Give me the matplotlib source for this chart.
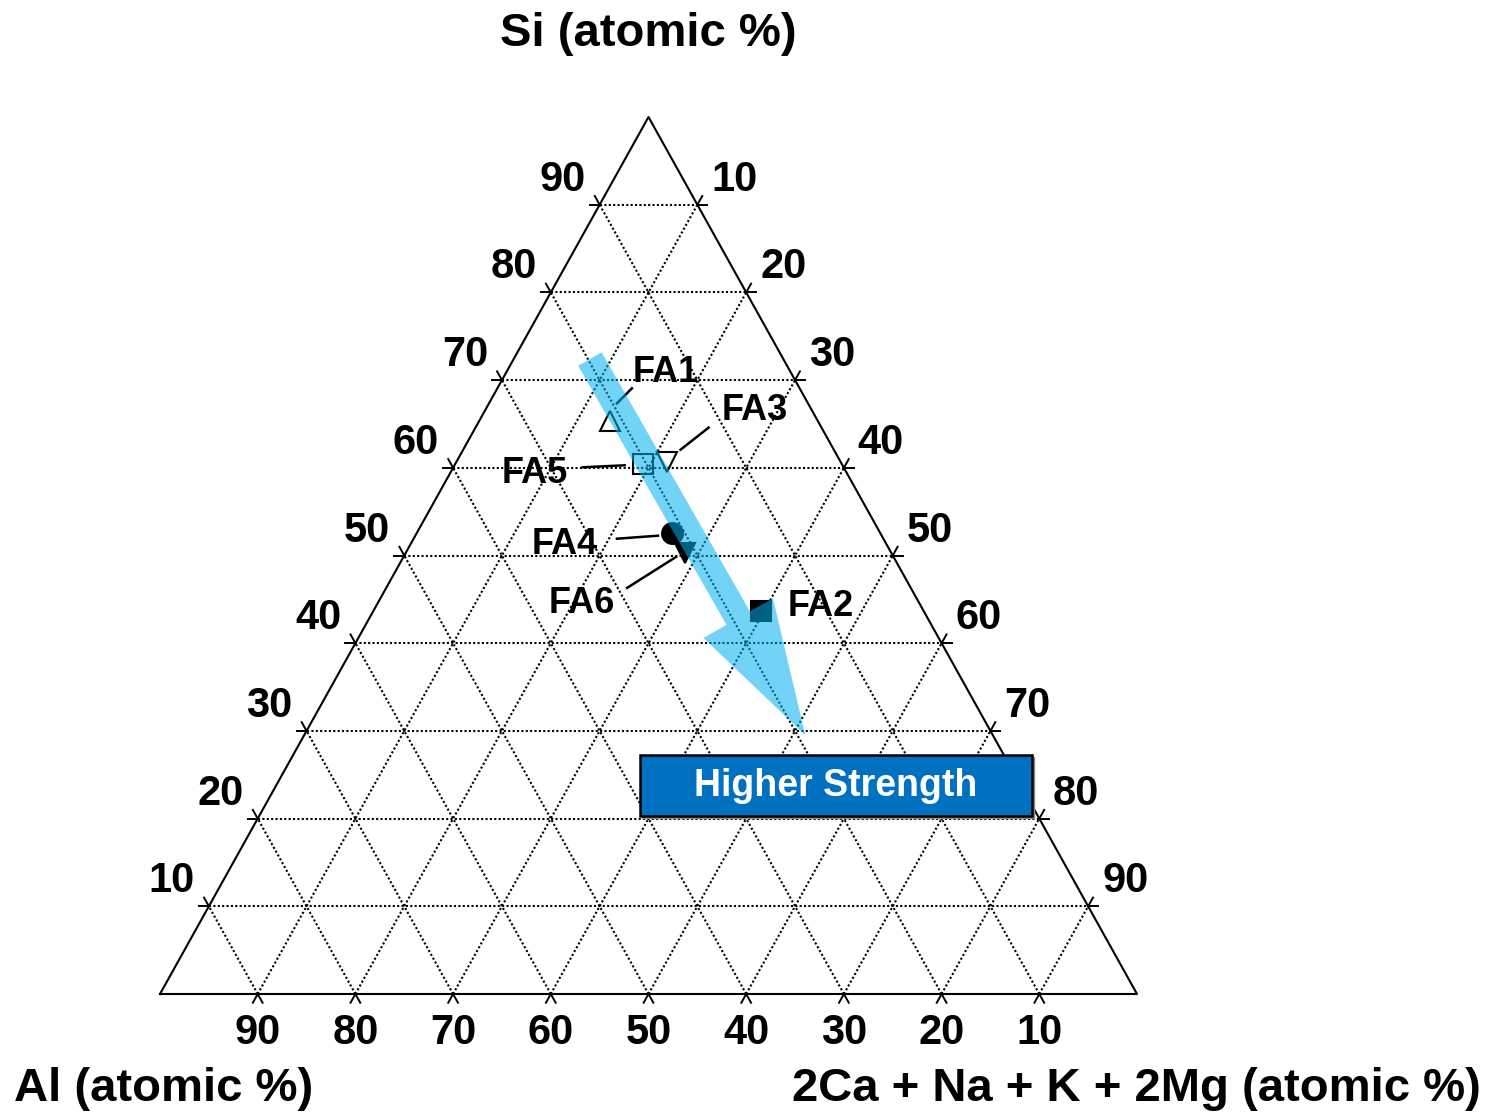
import matplotlib.pyplot as plt
import numpy as np
from matplotlib.patches import FancyArrow, Rectangle

plt.rcParams['font.family'] = ['Liberation Sans', 'DejaVu Sans']
plt.rcParams['font.weight'] = 'bold'

# fly ash compositions, atomic %
names = ['FA1', 'FA2', 'FA3', 'FA4', 'FA5', 'FA6']
si = [65.3, 43.7, 60.7, 52.6, 60.4, 50.3]
ca = [13.4, 39.7, 21.5, 26.1, 19.2, 28.6]   # 2Ca + Na + K + 2Mg
al = [100 - s - c for s, c in zip(si, ca)]
markers = ['^', 's', 'v', 'o', 's', 'v']
filled = [False, True, False, True, False, True]
sizes = [14, 15, 14, 15, 15, 14]

# label offset and leader line (start, end) in pixels from the point
label_off = {'FA1': (56, -50), 'FA2': (59, -5), 'FA3': (88, -52),
             'FA4': (-107, 11), 'FA5': (-108, 8), 'FA6': (-103, 50)}
leaders = {'FA1': ((7, -18), (22, -33)), 'FA3': ((14, -12), (42, -34)),
           'FA4': ((-55, 6), (-14, 3)), 'FA5': ((-60, 3), (-18, 1)),
           'FA6': ((-58, 35), (-9, 4))}

ticks = [10, 20, 30, 40, 50, 60, 70, 80, 90]

# strength trend arrow (Si, 2Ca+Na+K+2Mg)
arrow_si = [72.4, 29.5]
arrow_ca = [7.8, 51.3]

W, Hpx = 1495, 1114
PX = 977.0          # pixels per data unit
H = 877 / PX        # triangle height


def tern(s, c):
    s = s / 100.0
    c = c / 100.0
    return c + s / 2, s * H


fig = plt.figure(figsize=(W / 100, Hpx / 100), dpi=100)
ax = fig.add_axes([160 / W, (Hpx - 994) / Hpx, 977 / W, 877 / Hpx])
ax.set_xlim(0, 1)
ax.set_ylim(0, H)
ax.axis('off')

# outline
ax.plot([0, 1, 0.5, 0], [0, 0, H, 0], color='black', lw=1.5, clip_on=False, zorder=3)

# grid lines with small ticks past the edges
L = 10 / PX


def grid_line(p0, p1):
    p0 = np.array(p0)
    p1 = np.array(p1)
    u = (p1 - p0) / np.hypot(*(p1 - p0))
    ax.plot([p0[0], p1[0]], [p0[1], p1[1]], color='black', lw=1.5,
            ls=(0, (1, 1.1)), zorder=1)
    for a, b in [(p0, p0 - L * u), (p1, p1 + L * u)]:
        ax.plot([a[0], b[0]], [a[1], b[1]], color='black', lw=1.4,
                clip_on=False, zorder=3)


for t in ticks:
    # Si constant
    grid_line(tern(t, 0), tern(t, 100 - t))
    # 2Ca+Na+K+2Mg constant
    grid_line(tern(0, t), tern(100 - t, t))
    # Al constant
    grid_line(tern(0, 100 - t), tern(100 - t, 0))

tk = dict(fontsize=30, fontweight='bold', ha='center', va='center',
          textcoords='offset pixels', annotation_clip=False)
for t in ticks:
    ax.annotate(str(t), tern(t, 0), xytext=(-37, 25), **tk)
    ax.annotate(str(t), tern(100 - t, t), xytext=(37, 25), **tk)
    ax.annotate(str(t), tern(0, 100 - t), xytext=(0, -39), **tk)

# data points
for n, s, c, m, f, ms in zip(names, si, ca, markers, filled, sizes):
    x, y = tern(s, c)
    ax.plot(x, y, marker=m, ms=ms, mew=1.5, mec='black',
            mfc='black' if f else 'none', ls='none', zorder=4)
    dx, dy = label_off[n]
    ax.annotate(n, (x, y), xytext=(dx, -dy - 1), textcoords='offset pixels',
                fontsize=26, fontweight='bold', ha='center', va='center',
                zorder=6)
    if n in leaders:
        (ax0, ay0), (ax1, ay1) = leaders[n]
        ax.plot([x + ax0 / PX, x + ax1 / PX], [y - ay0 / PX, y - ay1 / PX],
                color='black', lw=1.8, zorder=4)

# trend arrow
x0, y0 = tern(arrow_si[0], arrow_ca[0])
x1, y1 = tern(arrow_si[1], arrow_ca[1])
ax.add_patch(FancyArrow(x0, y0, x1 - x0, y1 - y0, width=27 / PX,
                        head_width=80 / PX, head_length=135 / PX,
                        length_includes_head=True, color='#00B0F0',
                        alpha=0.55, lw=0, zorder=5))

# label box
bx, by, bw, bh = 480 / PX, 178 / PX, 392 / PX, 61 / PX
ax.add_patch(Rectangle((bx + 2 / PX, by - 2 / PX), bw, bh, color='#8c8c8c',
                       zorder=6, clip_on=False))
ax.add_patch(Rectangle((bx, by), bw, bh, facecolor='#0070C0', edgecolor='black',
                       lw=1.8, zorder=7, clip_on=False))
ax.text(bx + bw / 2, by + bh / 2, 'Higher Strength', color='white',
        fontsize=27, fontweight='bold', ha='center', va='center', zorder=8)

# axis titles
fig.text(648 / W, 1 - 34 / Hpx, 'Si (atomic %)', fontsize=34,
         fontweight='bold', ha='center', va='center')
fig.text(14 / W, 1 - 1089 / Hpx, 'Al (atomic %)', fontsize=34,
         fontweight='bold', ha='left', va='center')
fig.text(1481 / W, 1 - 1089 / Hpx, '2Ca + Na + K + 2Mg (atomic %)',
         fontsize=34, fontweight='bold', ha='right', va='center')

fig.savefig('out.png', dpi=100)
